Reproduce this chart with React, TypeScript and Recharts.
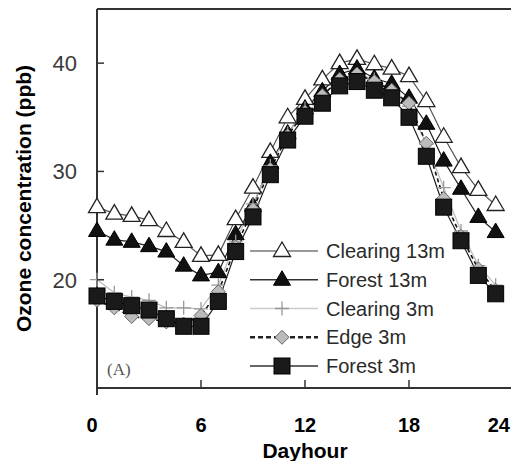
import { LineChart, Line, XAxis, YAxis, ReferenceLine, Legend } from "recharts";

const hours = [0, 1, 2, 3, 4, 5, 6, 7, 8, 9, 10, 11, 12, 13, 14, 15, 16, 17, 18, 19, 20, 21, 22, 23];

const clearing13 = [26.7, 26.1, 25.9, 25.5, 24.5, 23.5, 22.2, 22.3, 25.6, 28.5, 31.8, 35.0, 36.7, 38.5, 40.0, 40.4, 39.9, 39.5, 38.8, 36.5, 33.2, 30.4, 28.3, 26.9];
const forest13 = [24.5, 23.7, 23.5, 23.1, 22.6, 21.3, 20.4, 20.7, 24.2, 26.8, 30.8, 33.5, 35.8, 37.4, 39.0, 39.5, 38.6, 38.1, 36.8, 34.4, 31.0, 28.4, 25.8, 24.4];
const clearing3 = [20.0, 18.8, 18.4, 18.1, 17.4, 17.4, 17.3, 19.5, 23.5, 27.0, 30.5, 33.5, 35.8, 37.0, 38.5, 39.0, 38.5, 37.5, 36.0, 32.5, 28.5, 24.5, 21.3, 19.5];
const edge3 = [18.1, 17.4, 16.6, 16.4, 16.1, 15.9, 16.7, 18.9, 23.0, 26.5, 30.2, 33.3, 35.5, 37.0, 38.5, 39.0, 38.3, 37.5, 36.3, 32.6, 27.5, 24.0, 21.0, 19.0];
const forest3 = [18.5, 18.0, 17.6, 17.2, 16.4, 15.7, 15.7, 18.0, 22.6, 25.8, 29.7, 32.9, 35.1, 36.3, 37.9, 38.3, 37.5, 36.8, 35.0, 31.4, 26.7, 23.6, 20.4, 18.7];

const xTicks = [0, 6, 12, 18, 24];
const yTicks = [10, 20, 30, 40];
const seriesNames = ["Clearing 13m", "Forest 13m", "Clearing 3m", "Edge 3m", "Forest 3m"];

const data = hours.map((h, i) => ({
  hour: h,
  c13: clearing13[i],
  f13: forest13[i],
  c3: clearing3[i],
  e3: edge3[i],
  f3: forest3[i],
}));

const AXIS = "#333";
const SANS = "'Liberation Sans', Arial, sans-serif";

type M = { cx?: number; cy?: number; index?: number };

function OpenTri({ cx = 0, cy = 0 }: M) {
  return <path d={`M${cx},${cy - 9}L${cx - 8.5},${cy + 5.5}L${cx + 8.5},${cy + 5.5}Z`} fill="#fff" stroke="#222" strokeWidth={1.3} />;
}
function FillTri({ cx = 0, cy = 0 }: M) {
  return <path d={`M${cx},${cy - 9}L${cx - 8.5},${cy + 5.5}L${cx + 8.5},${cy + 5.5}Z`} fill="#111" stroke="#000" strokeWidth={1} />;
}
function Cross({ cx = 0, cy = 0 }: M) {
  return <path d={`M${cx - 7},${cy}H${cx + 7}M${cx},${cy - 7}V${cy + 7}`} stroke="#999" strokeWidth={1.3} fill="none" />;
}
function Diamond({ cx = 0, cy = 0 }: M) {
  return <path d={`M${cx},${cy - 7}L${cx + 7},${cy}L${cx},${cy + 7}L${cx - 7},${cy}Z`} fill="#bbb" stroke="#666" strokeWidth={1} />;
}
function Square({ cx = 0, cy = 0 }: M) {
  return <rect x={cx - 8} y={cy - 8} width={16} height={16} fill="#1a1a1a" stroke="#000" strokeWidth={1} />;
}

const SERIES = [
  { key: "c13", stroke: "#555", width: 1.2, dash: undefined, Marker: OpenTri },
  { key: "f13", stroke: "#222", width: 1.2, dash: undefined, Marker: FillTri },
  { key: "c3", stroke: "#bbb", width: 1.2, dash: undefined, Marker: Cross },
  { key: "e3", stroke: "#111", width: 1.6, dash: "4 3", Marker: Diamond },
  { key: "f3", stroke: "#222", width: 1.2, dash: undefined, Marker: Square },
];
const LEGEND_STROKE = ["#777", "#333", "#ccc", "#222", "#333"];

function XTick({ x = 0, y = 0, payload }: { x?: number; y?: number; payload?: { value: number } }) {
  const v = payload?.value ?? 0;
  // last label sits against the right edge of the picture
  const last = v === 24;
  return (
    <g>
      {v > 0 && v < 24 && <line x1={x} y1={y} x2={x} y2={y - 8} stroke={AXIS} strokeWidth={1.5} />}
      <text
        x={last ? 510 : v === 0 ? x - 5 : x}
        y={y + 44}
        textAnchor={last ? "end" : "middle"}
        fontFamily={SANS}
        fontWeight="bold"
        fontSize={20}
        fill="#000"
      >
        {v}
      </text>
    </g>
  );
}

function YTick({ x = 0, y = 0, payload }: { x?: number; y?: number; payload?: { value: number } }) {
  const v = payload?.value ?? 0;
  if (v === 10) return <line x1={x} y1={y} x2={x} y2={y + 7} stroke={AXIS} strokeWidth={2} />;
  return (
    <g>
      <line x1={x} y1={y} x2={x + 7} y2={y} stroke={AXIS} strokeWidth={1.5} />
      <text x={x - 20} y={y} dy="0.36em" textAnchor="end" fontFamily={SANS} fontSize={22} fill="#3a3a3a">
        {v}
      </text>
    </g>
  );
}

function LegendBox() {
  return (
    <svg width={230} height={150}>
      {SERIES.map((s, i) => {
        const cy = 15 + i * 28.75;
        const M = s.Marker;
        return (
          <g key={s.key}>
            <line
              x1={4}
              x2={72}
              y1={cy}
              y2={cy}
              stroke={LEGEND_STROKE[i]}
              strokeWidth={s.key === "e3" ? 2.5 : 1.3}
              strokeDasharray={s.key === "e3" ? "5 3" : undefined}
            />
            <M cx={36} cy={cy} />
            <text x={80} y={cy} dy="0.36em" fontFamily={SANS} fontSize={20} fill="#2a2a2a">
              {seriesNames[i]}
            </text>
          </g>
        );
      })}
    </svg>
  );
}

export default function App() {
  return (
    <div style={{ position: "absolute", left: 0, top: 0, width: 511, height: 461, overflow: "hidden", background: "#fff" }}>
      <LineChart width={530} height={461} data={data} margin={{ top: 9, left: 96, right: 17, bottom: 72 }}>
        <XAxis
          dataKey="hour"
          type="number"
          domain={[0, 24]}
          ticks={xTicks}
          height={1}
          tickSize={0}
          tickMargin={0}
          tickLine={false}
          axisLine={{ stroke: AXIS, strokeWidth: 2 }}
          tick={<XTick />}
          interval={0}
        />
        <YAxis
          type="number"
          domain={[10, 45]}
          ticks={yTicks}
          width={1}
          tickSize={0}
          tickMargin={0}
          tickLine={false}
          axisLine={{ stroke: AXIS, strokeWidth: 2 }}
          tick={<YTick />}
          interval={0}
          allowDataOverflow
        />
        <ReferenceLine y={45} stroke={AXIS} strokeWidth={2} />
        {SERIES.map((s) => {
          const M = s.Marker;
          return (
            <Line
              key={s.key}
              dataKey={s.key}
              type="linear"
              stroke={s.stroke}
              strokeWidth={s.width}
              strokeDasharray={s.dash}
              dot={(p: M) => <M key={`${s.key}-${p.index}`} cx={p.cx} cy={p.cy} />}
              activeDot={false}
              isAnimationActive={false}
            />
          );
        })}
        <Legend
          layout="vertical"
          align="center"
          verticalAlign="middle"
          content={<LegendBox />}
          wrapperStyle={{ left: 246, top: 236, width: 230, height: 150 }}
        />
        <text x={23} y={198.5} transform="rotate(-90 23 198.5)" textAnchor="middle" dy="0.36em" fontFamily={SANS} fontWeight="bold" fontSize={21} fill="#000">
          Ozone concentration (ppb)
        </text>
        <text x={305} y={458} textAnchor="middle" fontFamily={SANS} fontWeight="bold" fontSize={21} fill="#000">
          Dayhour
        </text>
      </LineChart>
      <div style={{ position: "absolute", left: 107, top: 360, fontFamily: "'Liberation Serif', serif", fontSize: 17, color: "#555" }}>
        (A)
      </div>
    </div>
  );
}
